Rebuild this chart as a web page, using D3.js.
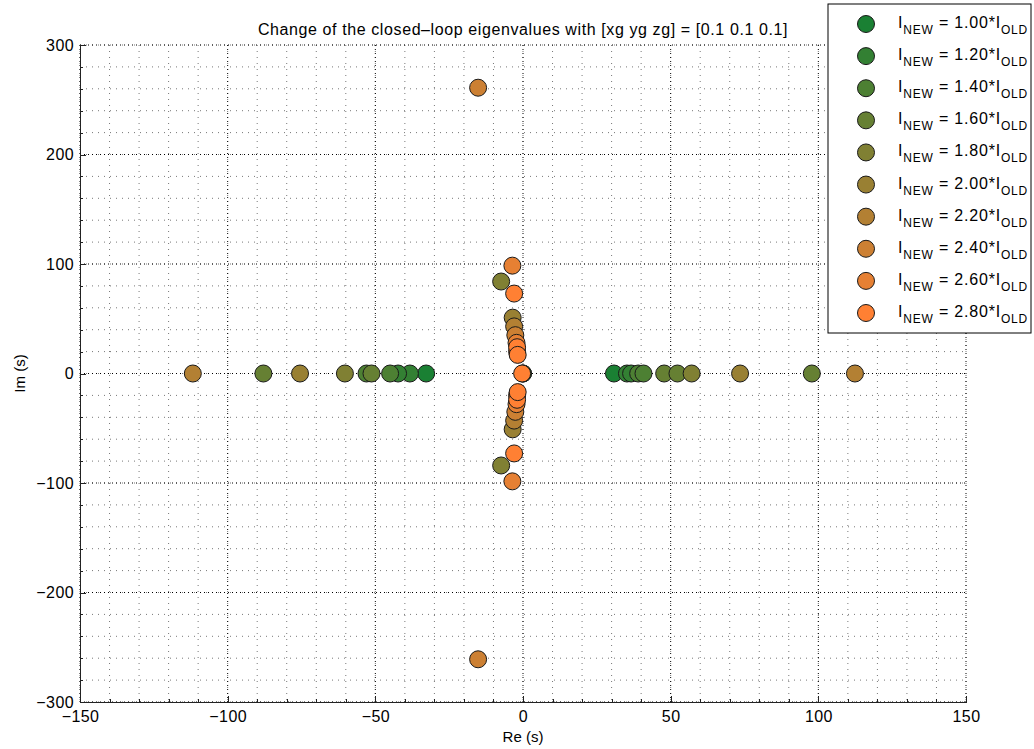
<!DOCTYPE html>
<html>
<head>
<meta charset="utf-8">
<script src="https://cdn.jsdelivr.net/npm/d3@7"></script>
<style>
  body { margin: 0; background: #fff; }
  text { font-family: "Liberation Sans", Arial, sans-serif; fill: #000; }
  .grid-major line { stroke: #000; stroke-width: 1; stroke-dasharray: 1,3; }
  .grid-minor line { stroke: #777; stroke-width: 1; stroke-dasharray: 1,5; }
  .axis path, .axis line { stroke: #222; shape-rendering: crispEdges; }
  .axis text { font-size: 16px; letter-spacing: 0.4px; }
</style>
</head>
<body>
<div id="chart"></div>
<script>
// multipliers of the inertia: I_NEW = k * I_OLD
var multipliers = [1.00, 1.20, 1.40, 1.60, 1.80, 2.00, 2.20, 2.40, 2.60, 2.80];

// closed-loop eigenvalues (real part, imaginary part) for each multiplier
var eigRe = [
    [-32.8, 30.8, 0],
    [-38.3, -42.3, 35.2, 36.6, 0],
    [-45.0, -53.0, 39.0, 40.8],
    [-51.3, -87.9, 47.8, 52.3, 97.8],
    [-60.3, 57.1, -7.4, -7.4],
    [-75.5, 73.5, -3.5, -3.5],
    [-111.8, 112.4, -3.0, -3.0],
    [-15.2, -15.2, -2.6, -2.6],
    [-3.6, -3.6, -2.2, -2.2, -2.0, -2.0],
    [-3.0, -3.0, -2.0, -2.0, -1.8, -1.8, -0.3]
];
var eigIm = [
    [0, 0, 0],
    [0, 0, 0, 0, 0],
    [0, 0, 0, 0],
    [0, 0, 0, 0, 0],
    [0, 0, 84, -84],
    [0, 0, 51, -51],
    [0, 0, 43, -43],
    [261, -261, 35, -35],
    [98.5, -98.5, 28, -28, 20, -20],
    [73, -73, 24, -24, 17, -17, 0]
];

var margin = {top: 45, right: 68, bottom: 47, left: 80};
var width = 1034 - margin.left - margin.right;
var height = 749 - margin.top - margin.bottom;

var svg = d3.select("#chart")
    .append("svg")
    .attr("width", 1034)
    .attr("height", 749);

var g = svg.append("g")
    .attr("transform", "translate(" + margin.left + "," + margin.top + ")");

var x = d3.scaleLinear().domain([-150, 150]).range([0, width]);
var y = d3.scaleLinear().domain([-300, 300]).range([height, 0]);

var color = d3.scaleLinear()
    .domain([multipliers[0], multipliers[multipliers.length - 1]])
    .range(["#1a8033", "#ff8033"]);

// grid, minor first then major
var minor = g.append("g").attr("class", "grid-minor");
minor.selectAll(".vx").data(x.ticks(30)).enter().append("line")
    .attr("x1", d => x(d)).attr("x2", d => x(d))
    .attr("y1", 0).attr("y2", height);
minor.selectAll(".hy").data(y.ticks(30)).enter().append("line")
    .attr("y1", d => y(d)).attr("y2", d => y(d))
    .attr("x1", 0).attr("x2", width);

var major = g.append("g").attr("class", "grid-major");
major.selectAll(".vx").data(x.ticks(6)).enter().append("line")
    .attr("x1", d => x(d)).attr("x2", d => x(d))
    .attr("y1", 0).attr("y2", height);
major.selectAll(".hy").data(y.ticks(6)).enter().append("line")
    .attr("y1", d => y(d)).attr("y2", d => y(d))
    .attr("x1", 0).attr("x2", width);

var fmt = d => d < 0 ? "\u2212" + Math.abs(d) : "" + d;

// axes (ticks point inward)
g.append("g").attr("class", "axis")
    .attr("transform", "translate(0," + height + ")")
    .call(d3.axisBottom(x).ticks(30).tickSizeInner(-3).tickSizeOuter(0).tickFormat(""));
g.append("g").attr("class", "axis")
    .attr("transform", "translate(0," + height + ")")
    .call(d3.axisBottom(x).ticks(6).tickSizeInner(-6).tickSizeOuter(0).tickPadding(9).tickFormat(fmt));
g.append("g").attr("class", "axis")
    .call(d3.axisLeft(y).ticks(30).tickSizeInner(-3).tickSizeOuter(0).tickFormat(""));
g.append("g").attr("class", "axis")
    .call(d3.axisLeft(y).ticks(6).tickSizeInner(-6).tickSizeOuter(0).tickPadding(6).tickFormat(fmt));

// eigenvalues
multipliers.forEach(function(k, i) {
    var pts = eigRe[i].map((re, j) => ({re: re, im: eigIm[i][j]}));
    g.append("g").selectAll("circle")
        .data(pts)
        .enter()
        .append("circle")
        .attr("cx", d => x(d.re))
        .attr("cy", d => y(d.im))
        .attr("r", 8.5)
        .style("fill", color(k))
        .style("stroke", "#1a1a1a")
        .style("stroke-width", 1);
});

// title and labels
svg.append("text")
    .attr("x", margin.left + width / 2)
    .attr("y", 35)
    .attr("text-anchor", "middle")
    .style("font-size", "16px")
    .style("letter-spacing", "0.6px")
    .text("Change of the closed\u2013loop eigenvalues with [xg yg zg] = [0.1 0.1 0.1]");

svg.append("text")
    .attr("x", margin.left + width / 2)
    .attr("y", 742)
    .attr("text-anchor", "middle")
    .style("font-size", "15px")
    .text("Re (s)");

svg.append("text")
    .attr("transform", "translate(25," + (margin.top + height / 2) + ") rotate(-90)")
    .attr("text-anchor", "middle")
    .style("font-size", "15px")
    .text("Im (s)");

// legend
var legend = svg.append("g").attr("transform", "translate(828,4)");
legend.append("rect")
    .attr("width", 203).attr("height", 329)
    .style("fill", "#fff").style("stroke", "#000");

var ly = d3.scaleLinear().domain([0, multipliers.length - 1]).range([20, 309]);

var item = legend.selectAll(".item")
    .data(multipliers)
    .enter()
    .append("g")
    .attr("transform", (d, i) => "translate(0," + ly(i) + ")");

item.append("circle")
    .attr("cx", 38).attr("r", 8.5)
    .style("fill", d => color(d))
    .style("stroke", "#1a1a1a");

var lt = item.append("text")
    .attr("x", 70).attr("y", 4)
    .style("font-size", "16px")
    .style("letter-spacing", "0.8px");
lt.append("tspan").text("I");
lt.append("tspan").attr("dy", 6).style("font-size", "12px").text("NEW");
lt.append("tspan").attr("dy", -6).text(d => " = " + d.toFixed(2) + "*I");
lt.append("tspan").attr("dy", 6).style("font-size", "12px").text("OLD");
</script>
</body>
</html>
